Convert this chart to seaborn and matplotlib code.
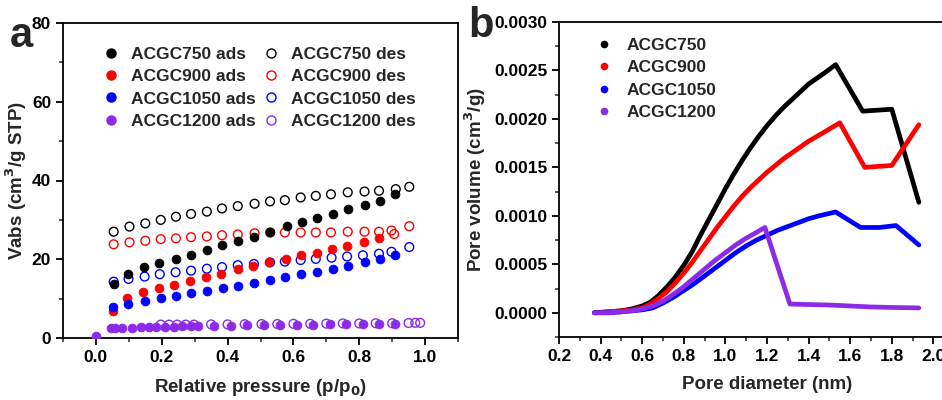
import numpy as np
import pandas as pd
import matplotlib
matplotlib.use("Agg")
import matplotlib.pyplot as plt
import seaborn as sns
from matplotlib.lines import Line2D
from matplotlib.ticker import MultipleLocator

sns.set_style("ticks")
plt.rcParams['font.family'] = ['Liberation Sans', 'DejaVu Sans']
plt.rcParams['font.weight'] = 'bold'
plt.rcParams['axes.labelweight'] = 'bold'
plt.rcParams['mathtext.default'] = 'bf'

# ---------------- panel a : isotherms ----------------
x750_ads = [0.054, 0.097, 0.145, 0.192, 0.242, 0.289, 0.337, 0.383, 0.432, 0.480, 0.529, 0.579, 0.625, 0.672, 0.719, 0.766, 0.817, 0.863, 0.908]
y750_ads = [13.8, 16.3, 18.0, 19.0, 20.0, 21.1, 22.4, 23.5, 24.6, 25.7, 26.9, 28.4, 29.5, 30.4, 31.6, 32.7, 33.8, 34.9, 36.6]
x750_des = [0.054, 0.102, 0.150, 0.197, 0.243, 0.289, 0.337, 0.383, 0.431, 0.482, 0.529, 0.574, 0.622, 0.668, 0.714, 0.765, 0.816, 0.860, 0.911, 0.952]
y750_des = [27.0, 28.3, 29.1, 30.0, 30.8, 31.5, 32.1, 32.9, 33.5, 34.1, 34.7, 35.0, 35.7, 36.1, 36.5, 37.0, 37.2, 37.4, 37.8, 38.4]

x900_ads = [0.051, 0.094, 0.143, 0.191, 0.237, 0.286, 0.334, 0.380, 0.431, 0.477, 0.527, 0.577, 0.622, 0.671, 0.717, 0.763, 0.814, 0.860]
y900_ads = [6.75, 10.1, 11.8, 12.7, 13.5, 14.6, 15.4, 16.3, 17.5, 18.3, 19.2, 20.1, 21.0, 21.7, 22.5, 23.4, 24.3, 25.3]
x900_des = [0.054, 0.102, 0.150, 0.197, 0.243, 0.289, 0.337, 0.383, 0.431, 0.482, 0.529, 0.574, 0.622, 0.668, 0.714, 0.765, 0.816, 0.860, 0.898, 0.906, 0.952]
y900_des = [23.8, 24.3, 24.7, 25.1, 25.3, 25.6, 25.8, 26.1, 26.3, 26.6, 26.8, 26.8, 26.8, 26.8, 26.8, 27.0, 27.0, 27.0, 27.3, 26.4, 28.4]

x1050_ads = [0.051, 0.097, 0.148, 0.197, 0.243, 0.289, 0.337, 0.385, 0.431, 0.480, 0.529, 0.574, 0.622, 0.671, 0.719, 0.765, 0.816, 0.862, 0.908]
y1050_ads = [7.8, 8.7, 9.5, 10.1, 10.7, 11.4, 12.0, 12.6, 13.2, 13.9, 14.8, 15.4, 16.2, 16.8, 17.6, 18.3, 19.2, 20.0, 21.1]
x1050_des = [0.054, 0.099, 0.148, 0.194, 0.242, 0.289, 0.337, 0.383, 0.431, 0.480, 0.529, 0.574, 0.622, 0.668, 0.716, 0.763, 0.811, 0.860, 0.898, 0.952]
y1050_des = [14.3, 15.0, 15.6, 16.2, 16.7, 17.1, 17.6, 18.0, 18.5, 18.8, 19.2, 19.4, 19.8, 20.1, 20.4, 20.7, 21.0, 21.4, 21.9, 23.1]

x1200_ads = [0.0, 0.045, 0.058, 0.08, 0.11, 0.138, 0.16, 0.183, 0.21, 0.237, 0.263, 0.288, 0.31, 0.36, 0.41, 0.46, 0.51, 0.56, 0.61, 0.66, 0.71, 0.76, 0.81, 0.86, 0.91]
y1200_ads = [0.5, 2.5, 2.55, 2.6, 2.65, 2.7, 2.75, 2.8, 2.85, 2.9, 2.95, 3.0, 3.0, 3.1, 3.15, 3.2, 3.25, 3.3, 3.35, 3.4, 3.45, 3.5, 3.55, 3.6, 3.65]
x1200_des = [0.197, 0.222, 0.247, 0.273, 0.298, 0.35, 0.40, 0.452, 0.503, 0.551, 0.60, 0.651, 0.70, 0.75, 0.80, 0.85, 0.90, 0.95, 0.97, 0.985]
y1200_des = [3.4, 3.4, 3.4, 3.4, 3.4, 3.45, 3.45, 3.5, 3.55, 3.55, 3.6, 3.6, 3.65, 3.7, 3.7, 3.75, 3.75, 3.8, 3.85, 3.85]

# ---------------- panel b : pore size distribution ----------------
d750 = [0.37, 0.44, 0.50, 0.55, 0.60, 0.64, 0.68, 0.72, 0.76, 0.80, 0.84, 0.88, 0.92, 0.96, 1.00, 1.04, 1.08, 1.12, 1.16, 1.20, 1.24, 1.28, 1.32, 1.36, 1.40, 1.44, 1.48, 1.53, 1.66, 1.73, 1.80, 1.93]
v750 = [0, 0.00001, 0.00002, 0.00004, 0.00007, 0.00011, 0.00018, 0.00027, 0.00037, 0.00049, 0.00063, 0.00080, 0.00096, 0.00112, 0.00128, 0.00143, 0.00157, 0.00170, 0.00182, 0.00193, 0.00203, 0.00212, 0.00220, 0.00228, 0.00236, 0.00242, 0.00248, 0.00256, 0.00208, 0.00209, 0.00210, 0.00114]
d900 = [0.37, 0.44, 0.50, 0.55, 0.60, 0.64, 0.68, 0.72, 0.76, 0.80, 0.84, 0.88, 0.92, 0.96, 1.00, 1.04, 1.08, 1.12, 1.16, 1.20, 1.24, 1.28, 1.32, 1.36, 1.40, 1.44, 1.48, 1.55, 1.67, 1.80, 1.93]
v900 = [0, 0.00001, 0.00002, 0.00003, 0.00005, 0.00009, 0.00015, 0.00022, 0.00031, 0.00041, 0.00052, 0.00064, 0.00076, 0.00088, 0.00099, 0.00110, 0.00120, 0.00129, 0.00137, 0.00145, 0.00152, 0.00159, 0.00165, 0.00171, 0.00177, 0.00182, 0.00187, 0.00196, 0.00150, 0.00152, 0.00194]
d1050 = [0.37, 0.44, 0.50, 0.55, 0.60, 0.65, 0.70, 0.75, 0.80, 0.85, 0.90, 0.95, 1.00, 1.05, 1.10, 1.15, 1.20, 1.25, 1.30, 1.35, 1.40, 1.45, 1.53, 1.65, 1.74, 1.82, 1.93]
v1050 = [0, 0, 0.00001, 0.00002, 0.00003, 0.00005, 0.00010, 0.00016, 0.00023, 0.00030, 0.00038, 0.00046, 0.00054, 0.00062, 0.00069, 0.00075, 0.00080, 0.00085, 0.00089, 0.00093, 0.00097, 0.00100, 0.00104, 0.00088, 0.00088, 0.00090, 0.00070]
d1200 = [0.37, 0.44, 0.50, 0.55, 0.60, 0.65, 0.70, 0.75, 0.80, 0.85, 0.90, 0.95, 1.00, 1.05, 1.10, 1.15, 1.19, 1.31, 1.40, 1.50, 1.60, 1.70, 1.80, 1.93]
v1200 = [0, 0, 0.00001, 0.00002, 0.00004, 0.00007, 0.00012, 0.00019, 0.00027, 0.00036, 0.00045, 0.00054, 0.00062, 0.00070, 0.00077, 0.00083, 0.00088, 0.00009, 0.000085, 0.00008, 0.00007, 0.00006, 0.000055, 0.00005]

names = ["ACGC750", "ACGC900", "ACGC1050", "ACGC1200"]
colors = ["#000000", "#FF0000", "#0000FF", "#8B2BE8"]

W, H = 942, 400
fig = plt.figure(figsize=(W / 100, H / 100), dpi=100)
axa = fig.add_axes([63 / W, (H - 338) / H, 395 / W, 315 / H])
axb = fig.add_axes([559 / W, (H - 337) / H, 416 / W, 315 / H])

ads = [(x750_ads, y750_ads), (x900_ads, y900_ads), (x1050_ads, y1050_ads), (x1200_ads, y1200_ads)]
des = [(x750_des, y750_des), (x900_des, y900_des), (x1050_des, y1050_des), (x1200_des, y1200_des)]

for (x, y), c in zip(des, colors):
    sns.scatterplot(x=x, y=y, ax=axa, marker='o', s=40, facecolors='none',
                    edgecolor=c, linewidth=1.0, legend=False, zorder=3)
for (x, y), c in zip(ads, colors):
    sns.scatterplot(x=x, y=y, ax=axa, marker='o', s=40, color=c,
                    edgecolor=c, linewidth=0.6, legend=False, zorder=4)

axa.set_xlim(-0.1, 1.1)
axa.set_ylim(0, 80)
axa.xaxis.set_minor_locator(MultipleLocator(0.1))
axa.yaxis.set_major_locator(MultipleLocator(20))
axa.yaxis.set_minor_locator(MultipleLocator(10))
axa.set_xticks([0.0, 0.2, 0.4, 0.6, 0.8, 1.0])
axa.set_xticklabels(["0.0", "0.2", "0.4", "0.6", "0.8", "1.0"])
axa.set_xlabel("Relative pressure (p/p$_0$)", fontsize=13.5, fontweight='bold', labelpad=9)
axa.set_ylabel("Vabs (cm$^3$/g STP)", fontsize=13.5, fontweight='bold', labelpad=2)

handles = []
labels = []
for n, c in zip(names, colors):
    handles.append(Line2D([], [], ls='none', marker='o', ms=6.5, mfc=c, mec=c))
    labels.append(n + " ads")
for n, c in zip(names, colors):
    handles.append(Line2D([], [], ls='none', marker='o', ms=6.5, mfc='none', mec=c, mew=1.0))
    labels.append(n + " des")
axa.legend(handles, labels, ncol=2, loc='upper left', bbox_to_anchor=(0.055, 0.975),
           frameon=False, prop={'weight': 'bold', 'size': 12.5}, handletextpad=0.55,
           columnspacing=0.3, labelspacing=0.42, handlelength=1.2)

for (d, v), c, n in zip([(d750, v750), (d900, v900), (d1050, v1050), (d1200, v1200)], colors, names):
    df = pd.DataFrame({"d": d, "v": v})
    sns.lineplot(data=df, x="d", y="v", ax=axb, color=c, lw=3.4, legend=False, sort=False)

axb.set_xlim(0.2, 2.2)
axb.set_ylim(-0.00025, 0.003)
axb.xaxis.set_minor_locator(MultipleLocator(0.1))
axb.yaxis.set_minor_locator(MultipleLocator(0.00025))
axb.set_xticks([0.2, 0.4, 0.6, 0.8, 1.0, 1.2, 1.4, 1.6, 1.8, 2.0, 2.2])
axb.set_xticklabels(["0.2", "0.4", "0.6", "0.8", "1.0", "1.2", "1.4", "1.6", "1.8", "2.0", "2.2"])
axb.set_yticks([0.0, 0.0005, 0.0010, 0.0015, 0.0020, 0.0025, 0.0030])
axb.set_yticklabels(["0.0000", "0.0005", "0.0010", "0.0015", "0.0020", "0.0025", "0.0030"])
axb.set_xlabel("Pore diameter (nm)", fontsize=13.5, fontweight='bold', labelpad=9)
axb.set_ylabel("Pore volume (cm$^3$/g)", fontsize=13.5, fontweight='bold', labelpad=4)

hb = [Line2D([], [], ls='none', marker='o', ms=4.5, mfc=c, mec=c) for c in colors]
axb.legend(hb, names, loc='upper left', bbox_to_anchor=(0.045, 1.0), frameon=False,
           prop={'weight': 'bold', 'size': 12.5}, handletextpad=0.7, labelspacing=0.42,
           handlelength=1.2)

for ax in (axa, axb):
    for s in ax.spines.values():
        s.set_linewidth(1.3)
        s.set_color('black')
    ax.tick_params(which='major', direction='out', length=5, width=1.3,
                   labelsize=12.5, colors='black')
    ax.tick_params(which='minor', direction='out', length=3, width=1.1)
    ax.tick_params(axis='both', which='both', top=False, right=False)
    for lab in ax.get_xticklabels() + ax.get_yticklabels():
        lab.set_fontweight('bold')

fig.text(10 / W, 1 - 47 / H, "a", fontsize=30, fontweight='bold', ha='left', va='baseline')
fig.text(468 / W, 1 - 37 / H, "b", fontsize=30, fontweight='bold', ha='left', va='baseline')

fig.savefig("out.png", dpi=100, facecolor='white')
